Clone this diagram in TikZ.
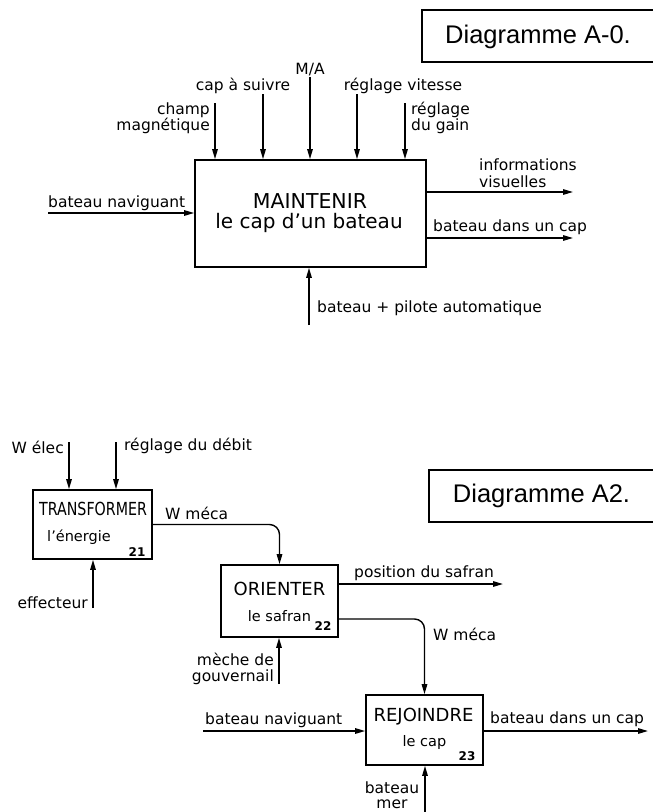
\documentclass[tikz,border=0pt]{standalone}
\usepackage{fontspec}
\setmainfont{DejaVu Sans}
\newfontfamily\arialf{Liberation Sans}
\usetikzlibrary{arrows.meta,calc}
\tikzset{
  lbl/.style={font=\fontsize{15.5}{16.5}\selectfont, inner sep=0pt, align=left},
  ttl/.style={font=\fontsize{18}{19}\selectfont, inner sep=0pt},
  sub/.style={font=\fontsize{14.5}{16}\selectfont, inner sep=0pt},
  num/.style={font=\fontsize{12}{13}\selectfont\bfseries, inner sep=0pt},
  fbox/.style={draw, line width=1.7pt, inner sep=0pt},
  titlebox/.style={draw, line width=1.3pt, inner sep=0pt},
  arr/.style={line width=1.4pt, -{Triangle[length=10pt,width=5.5pt]}},
}
\begin{document}
\begin{tikzpicture}[x=1pt,y=-1pt]
\useasboundingbox (0,0) rectangle (653,812);

% ===== Diagram A-0 =====
\node[titlebox, minimum width=238pt, minimum height=52pt] (t0) at (541,36) {};
\node[font=\arialf\fontsize{25.5}{28}\selectfont, inner sep=0pt] (t0txt) at (538,37) {Diagramme A-0.};

\node[fbox, minimum width=231pt, minimum height=107pt] (M) at (310.5,213.5) {};
\node[font=\fontsize{20.5}{22}\selectfont, inner sep=0pt] (Mt) at (310,201) {MAINTENIR};
\node[font=\fontsize{20}{22}\selectfont, inner sep=0pt] (Ms) at (309,223) {le cap d’un bateau};

\coordinate (c1) at (215,103);
\coordinate (c2) at (263,94);
\coordinate (c3) at (310,77);
\coordinate (c4) at (357,94);
\coordinate (c5) at (405,103);
\foreach \c in {c1,c2,c3,c4,c5} \draw[arr] (\c) -- (\c |- M.north);

\node[lbl, align=right, anchor=east] (l1) at (210,118) {champ\\magnétique};
\node[lbl, anchor=center] (l2) at (243,86) {cap à suivre};
\node[lbl, anchor=center] (l3) at (310,70) {M/A};
\node[lbl, anchor=center] (l4) at (403,86) {réglage vitesse};
\node[lbl, anchor=west] (l5) at (411,118) {réglage\\du gain};

\coordinate (in1) at (48,213);
\draw[arr] (in1) -- (in1 -| M.west);
\node[lbl, anchor=west] (l6) at (48,203) {bateau naviguant};

\coordinate (o1) at (573,192);
\coordinate (o2) at (573,238);
\draw[arr] (o1 -| M.east) -- (o1);
\draw[arr] (o2 -| M.east) -- (o2);
\node[lbl, anchor=west] (l7) at (479,173) {informations\\visuelles};
\node[lbl, anchor=west] (l8) at (433,227) {bateau dans un cap};

\coordinate (m1) at (309,325);
\draw[arr] (m1) -- (m1 |- M.south);
\node[lbl, anchor=west] (l9) at (317,308) {bateau + pilote automatique};

% ===== Diagram A2 =====
\node[titlebox, minimum width=231pt, minimum height=52pt] (t2) at (544.5,496) {};
\node[font=\arialf\fontsize{25.5}{28}\selectfont, inner sep=0pt] (t2txt) at (541.5,496) {Diagramme A2.};

\node[fbox, minimum width=119pt, minimum height=69pt] (T) at (92.5,524.5) {};
\node[ttl] (Tt) at (93,509) {\scalebox{0.79}[1]{TRANSFORMER}};
\node[sub] (Ts) at (79,537) {l’énergie};
\node[num] (Tn) at (137,552) {21};

\node[fbox, minimum width=117pt, minimum height=72pt] (O) at (279.5,601) {};
\node[ttl] (Ot) at (279.5,589) {ORIENTER};
\node[sub] (Os) at (279.5,616) {le safran};
\node[num] (On) at (323,626) {22};

\node[fbox, minimum width=117pt, minimum height=70pt] (R) at (424.5,730) {};
\node[ttl] (Rt) at (423.5,717) {REJOINDRE};
\node[sub] (Rs) at (424.5,742) {le cap};
\node[num] (Rn) at (467,756) {23};

% inputs / controls of T
\coordinate (we) at (69,442);
\coordinate (rd) at (116,442);
\draw[arr] (we) -- (we |- T.north);
\draw[arr] (rd) -- (rd |- T.north);
\node[lbl, anchor=east] (lwe) at (64,447) {W élec};
\node[lbl, anchor=west] (lrd) at (124,446) {réglage du débit};

\coordinate (ef) at (93,608);
\draw[arr] (ef) -- (ef |- T.south);
\node[lbl, anchor=east] (lef) at (88,603) {effecteur};

% W méca T -> O
\draw[arr, rounded corners=10pt] (T.east) -| (O.north);
\node[lbl, anchor=west] (lwm1) at (165,513) {W méca};

% O outputs
\coordinate (ps) at (503,584);
\draw[arr] (ps -| O.east) -- (ps);
\node[lbl, anchor=west] (lps) at (354,573) {position du safran};

\coordinate (wm2) at (338,619);
\draw[arr, rounded corners=10pt] (wm2) -| (R.north);
\node[lbl, anchor=west] (lwm2) at (433,634) {W méca};

\coordinate (mg) at (279,684);
\draw[arr] (mg) -- (mg |- O.south);
\node[lbl, align=right, anchor=east] (lmg) at (274,669) {mèche de\\gouvernail};

% R
\coordinate (bn) at (203,731);
\draw[arr] (bn) -- (bn -| R.west);
\node[lbl, anchor=west] (lbn) at (205,720) {bateau naviguant};

\coordinate (bc) at (648,731);
\draw[arr] (bc -| R.east) -- (bc);
\node[lbl, anchor=west] (lbc) at (490,719) {bateau dans un cap};

\coordinate (bm) at (425,815);
\draw[arr] (bm) -- (bm |- R.south);
\node[lbl] (lb1) at (392,788) {bateau};
\node[lbl] (lb2) at (392,804) {mer};
\end{tikzpicture}
\end{document}
